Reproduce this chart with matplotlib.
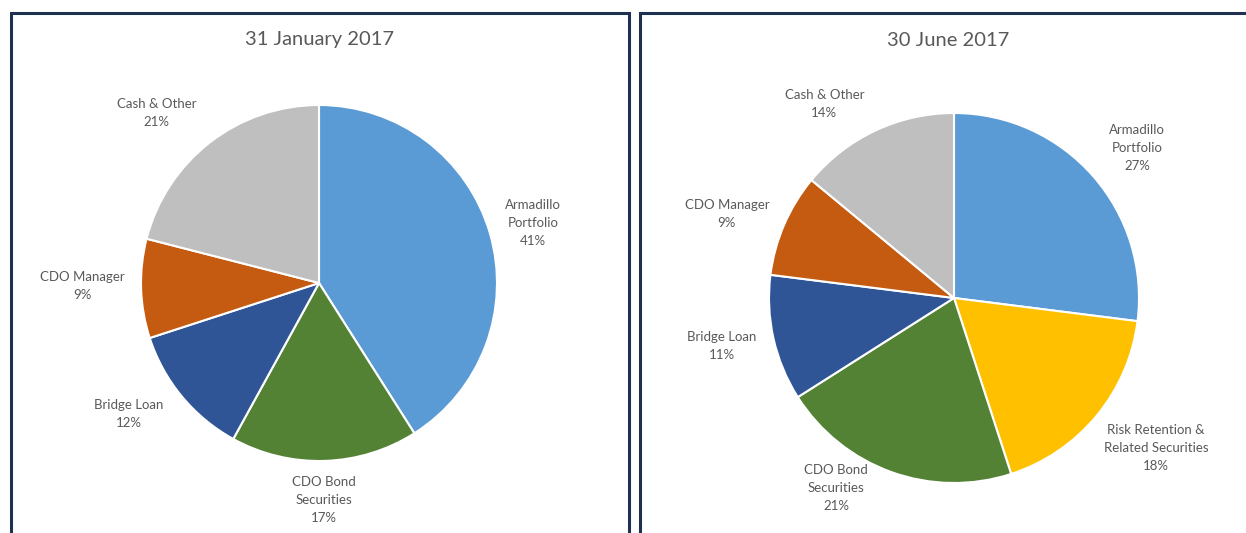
import matplotlib.pyplot as plt
from matplotlib.patches import Rectangle
import numpy as np

plt.rcParams['font.family'] = ['Lato', 'DejaVu Sans']

# Data
jan_labels = ["Armadillo\nPortfolio", "CDO Bond\nSecurities", "Bridge Loan",
              "CDO Manager", "Cash & Other"]
jan_values = [41, 17, 12, 9, 21]

jun_labels = ["Armadillo\nPortfolio", "Risk Retention &\nRelated Securities",
              "CDO Bond\nSecurities", "Bridge Loan", "CDO Manager", "Cash & Other"]
jun_values = [27, 18, 21, 11, 9, 14]

jan_colors = ["#5B9BD5", "#548235", "#2F5597", "#C55A11", "#BFBFBF"]
jun_colors = ["#5B9BD5", "#FFC000", "#548235", "#2F5597", "#C55A11", "#BFBFBF"]

# label placement (distance from centre in radii, angular shift clockwise in degrees)
jan_dist = [1.25, 1.22, 1.30, 1.33, 1.32]
jan_shift = [0.6, 0.5, 5, 1, -6]
jun_dist = [1.28, 1.36, 1.21, 1.28, 1.31, 1.26]
jun_shift = [2, -3, 12, 1, -3, -8.6]

W, H = 1246, 533
fig = plt.figure(figsize=(W / 100, H / 100), dpi=100)

border = "#1F3150"
txt = "#595959"

# panel frames
fig.patches.append(Rectangle((11 / W, -0.05), 618 / W, 1.05 - 13 / H,
                             transform=fig.transFigure, fill=False,
                             edgecolor=border, linewidth=2.2))
fig.patches.append(Rectangle((640 / W, -0.05), 700 / W, 1.05 - 13 / H,
                             transform=fig.transFigure, fill=False,
                             edgecolor=border, linewidth=2.2))

fig.text(320 / W, 1 - 40 / H, "31 January 2017", ha="center", va="center",
         fontsize=14.5, color=txt)
fig.text(948 / W, 1 - 40 / H, "30 June 2017", ha="center", va="center",
         fontsize=14.5, color=txt)


def draw_pie(cx, cy, r, values, labels, colors, dists, shifts):
    half = 1.5 * r
    ax = fig.add_axes([(cx - half) / W, 1 - (cy + half) / H, 2 * half / W, 2 * half / H])
    wedges, _ = ax.pie(values, colors=colors, startangle=90, counterclock=False,
                       wedgeprops=dict(edgecolor="white", linewidth=1.5))
    for w, lab, v, d, s in zip(wedges, labels, values, dists, shifts):
        mid = np.deg2rad((w.theta1 + w.theta2) / 2 - s)
        ax.text(d * np.cos(mid), d * np.sin(mid), f"{lab}\n{v}%",
                ha="center", va="center", fontsize=9.5, color=txt,
                linespacing=1.6)
    ax.set_xlim(-1.5, 1.5)
    ax.set_ylim(-1.5, 1.5)
    ax.set_aspect("equal")
    ax.axis("off")


draw_pie(319, 283, 178, jan_values, jan_labels, jan_colors, jan_dist, jan_shift)
draw_pie(954, 298, 185, jun_values, jun_labels, jun_colors, jun_dist, jun_shift)

fig.savefig("out.png", dpi=100)
